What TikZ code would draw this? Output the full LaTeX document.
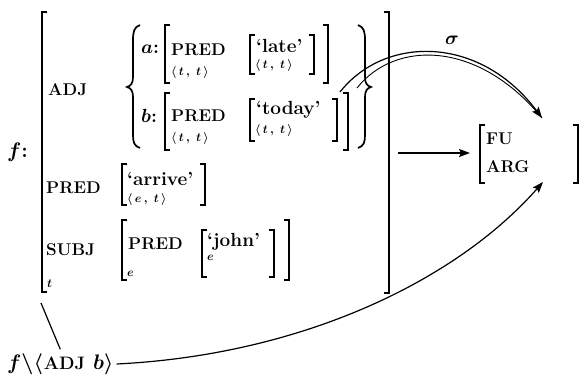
\RequirePackage{fix-cm}
\documentclass[tikz,border=0pt]{standalone}
\usepackage{fontspec}
\usetikzlibrary{arrows.meta}

% open and close brackets: x, top, bottom
\newcommand{\openbr}[3]{\draw[brk] (#1+5,#2) -- (#1,#2) -- (#1,#3) -- (#1+5,#3);}
\newcommand{\closebr}[3]{\draw[brk] (#1-5,#2) -- (#1,#2) -- (#1,#3) -- (#1-5,#3);}
% attribute names
\newcommand{\attr}[1]{{\fontsize{17}{19}\selectfont\bfseries #1}}

\tikzset{
  brk/.style={line width=1.5pt},
  lbl/.style={inner sep=0pt, anchor=west},
  sub/.style={inner sep=0pt, anchor=west, font=\fontsize{12}{13}\selectfont\boldmath},
  arr/.style={line width=1.2pt, -{Stealth[length=11pt,width=8pt,inset=2pt]}}
}

\begin{document}
\begin{tikzpicture}[x=1pt, y=-1pt, font=\fontsize{19}{23}\selectfont\bfseries\boldmath]
    \useasboundingbox (0,0) rectangle (584,380);

    % Outer f-structure
    \node[lbl, font=\fontsize{21}{24}\selectfont\bfseries\boldmath] (f) at (7,152) {$f$:};
    \openbr{42}{12}{292}
    \closebr{389}{12}{293}
    \node[sub] (ft) at (47,284) {$t$};

    % ADJ set
    \node[lbl] (adj) at (48,90) {\attr{ADJ}};
    \draw[line width=1.7pt] (140,25) .. controls (134,27) and (133,32) .. (133,40) -- (133,77)
        .. controls (133,83) and (131,86) .. (127,87) .. controls (131,88) and (133,91) .. (133,97)
        -- (133,135) .. controls (133,142) and (134,146) .. (140,148);
    \draw[line width=1.7pt] (358,25) .. controls (364,27) and (365,32) .. (365,40) -- (365,77)
        .. controls (365,83) and (367,86) .. (371,87) .. controls (367,88) and (365,91) .. (365,97)
        -- (365,135) .. controls (365,142) and (364,146) .. (358,148);

    % a: [PRED 'late']
    \node[lbl] (alab) at (141,49) {$a$:};
    \openbr{165}{25}{83}
    \node[lbl] (apred) at (171,50) {\attr{PRED}};
    \node[sub] (atype) at (171,72) {$\langle\,t\,,\;t\,\rangle$};
    \openbr{250}{35}{74}
    \node[lbl] (late) at (256,46) {`late'};
    \node[sub] (ltype) at (255,65) {$\langle\,t\,,\;t\,\rangle$};
    \closebr{314}{35}{74}
    \closebr{328}{25}{83}

    % b: [PRED 'today']
    \node[lbl] (blab) at (141,116) {$b$:};
    \openbr{165}{93}{150}
    \node[lbl] (bpred) at (171,116) {\attr{PRED}};
    \node[sub] (btype) at (171,138) {$\langle\,t\,,\;t\,\rangle$};
    \openbr{250}{99}{141}
    \node[lbl] (today) at (256,110) {`today'};
    \node[sub] (ttype) at (255,130) {$\langle\,t\,,\;t\,\rangle$};
    \closebr{337}{99}{141}
    \closebr{348}{93}{150}

    % PRED 'arrive'
    \node[lbl] (pred) at (46,188) {\attr{PRED}};
    \openbr{122}{164}{205}
    \node[lbl] (arrive) at (127,179) {`arrive'};
    \node[sub] (etype) at (127,199) {$\langle\,e\,,\;t\,\rangle$};
    \closebr{205}{164}{205}

    % SUBJ [PRED 'john']
    \node[lbl] (subj) at (46,250) {\attr{SUBJ}};
    \openbr{122}{220}{280}
    \node[lbl] (spred) at (128,244) {\attr{PRED}};
    \node[sub] (se) at (127,274) {$e$};
    \openbr{202}{230}{277}
    \node[lbl] (john) at (207,242) {`john'};
    \node[sub] (je) at (207,258) {$e$};
    \closebr{274}{230}{277}
    \closebr{289}{220}{280}

    % Target structure
    \openbr{480}{125}{183}
    \node[lbl] (fu) at (486,139) {\attr{FU}};
    \node[lbl] (arg) at (486,167) {\attr{ARG}};
    \closebr{578}{125}{183}

    % f without (ADJ b)
    \node[lbl, font=\fontsize{21}{24}\selectfont\bfseries\boldmath] (fb) at (7,364)
        {$f\backslash\langle$\hspace{1pt}{\fontsize{18}{20}\selectfont ADJ} $b\rangle$};

    % Connectors
    \coordinate (fs) at (398,153);
    \coordinate (fuin) at (470,153);
    \coordinate (fcorner) at (41,303);
    \coordinate (bstart) at (340,92);
    \coordinate (bstart2) at (357,88);
    \coordinate (tsig) at (542,118);
    \coordinate (targ) at (543,182);

    \draw[arr] (fs) -- (fuin);
    \draw[line width=1.2pt] (fcorner) -- ([yshift=4pt]fb.north);
    \draw[arr] (bstart) .. controls (385,35) and (480,35) .. (tsig);
    \draw[line width=0.9pt] (bstart2) .. controls (395,40) and (478,40) .. (tsig);
    \node (sig) at (452,40) {$\sigma$};
    \draw[arr] ([xshift=3pt]fb.east) .. controls (300,355) and (455,282) .. (targ);
\end{tikzpicture}
\end{document}
